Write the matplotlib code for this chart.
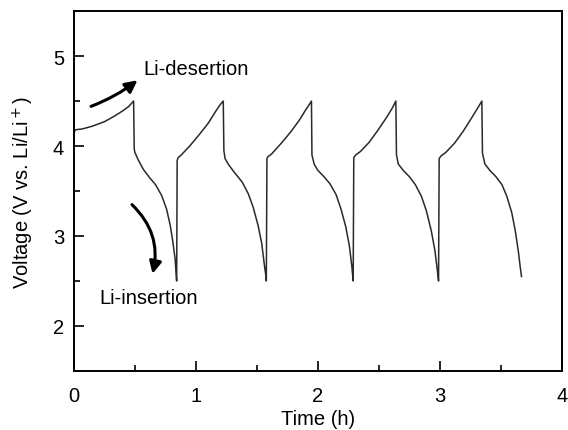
import matplotlib
matplotlib.use('Agg')
import matplotlib.pyplot as plt
from matplotlib.patches import FancyArrowPatch
from matplotlib.ticker import MultipleLocator

plt.rcParams['font.family'] = ['Liberation Sans', 'DejaVu Sans']

# time (h) and voltage (V), one charge/discharge segment at a time
time_h = [
    0.00, 0.01, 0.07, 0.15, 0.25, 0.33, 0.40, 0.45, 0.49,
    0.495, 0.50, 0.53, 0.57, 0.62, 0.67, 0.72, 0.76, 0.79, 0.81, 0.83, 0.84, 0.843,
    0.847, 0.855, 0.88, 0.95, 1.03, 1.10, 1.16, 1.20, 1.225,
    1.23, 1.24, 1.27, 1.32, 1.38, 1.43, 1.47, 1.51, 1.54, 1.56, 1.575, 1.578,
    1.583, 1.59, 1.62, 1.70, 1.78, 1.85, 1.90, 1.93, 1.948,
    1.952, 1.97, 2.00, 2.05, 2.10, 2.15, 2.19, 2.23, 2.26, 2.28, 2.29,
    2.295, 2.31, 2.35, 2.42, 2.49, 2.56, 2.61, 2.64,
    2.645, 2.66, 2.70, 2.75, 2.80, 2.85, 2.89, 2.93, 2.96, 2.98, 2.99,
    2.995, 3.01, 3.05, 3.12, 3.19, 3.26, 3.31, 3.345,
    3.35, 3.37, 3.41, 3.46, 3.51, 3.55, 3.59, 3.62, 3.645, 3.66, 3.67,
]
voltage = [
    4.13, 4.18, 4.19, 4.22, 4.27, 4.33, 4.39, 4.44, 4.50,
    3.97, 3.93, 3.84, 3.74, 3.65, 3.57, 3.45, 3.30, 3.12, 2.95, 2.75, 2.55, 2.50,
    3.84, 3.87, 3.90, 4.00, 4.13, 4.25, 4.38, 4.46, 4.50,
    3.95, 3.86, 3.79, 3.70, 3.60, 3.47, 3.32, 3.12, 2.92, 2.70, 2.55, 2.50,
    3.86, 3.88, 3.91, 4.03, 4.16, 4.29, 4.40, 4.46, 4.50,
    3.90, 3.80, 3.73, 3.66, 3.58, 3.46, 3.30, 3.10, 2.88, 2.65, 2.50,
    3.87, 3.90, 3.94, 4.04, 4.17, 4.31, 4.42, 4.50,
    3.90, 3.80, 3.73, 3.66, 3.57, 3.44, 3.28, 3.06, 2.84, 2.62, 2.50,
    3.86, 3.89, 3.93, 4.03, 4.16, 4.31, 4.42, 4.50,
    3.92, 3.80, 3.73, 3.66, 3.57, 3.44, 3.26, 3.05, 2.82, 2.65, 2.55,
]

fig = plt.figure(figsize=(5.68, 4.31), dpi=100)
ax = fig.add_axes([0.130, 0.137, 0.859, 0.835])

ax.plot(time_h, voltage, color='#2a2a2a', lw=1.1)

ax.set_xlim(0, 4)
ax.set_ylim(1.5, 5.5)
ax.xaxis.set_major_locator(MultipleLocator(1))
ax.xaxis.set_minor_locator(MultipleLocator(0.5))
ax.yaxis.set_major_locator(MultipleLocator(1))
ax.yaxis.set_minor_locator(MultipleLocator(0.5))
ax.tick_params(which='both', direction='in', labelsize=14.5, width=1.2)
ax.tick_params(which='major', length=7)
ax.tick_params(axis='x', which='major', pad=11)
ax.tick_params(axis='y', which='major', pad=7)
ax.tick_params(which='minor', length=4)
for s in ax.spines.values():
    s.set_linewidth(1.4)

ax.set_xlabel('Time (h)', fontsize=14.5, labelpad=3)
ax.set_ylabel('Voltage (V vs. Li/Li$^+$)', fontsize=14.5, labelpad=12)

# annotations
ax.text(0.57, 4.86, 'Li-desertion', fontsize=14.5, va='center', ha='left')
ax.add_patch(FancyArrowPatch((0.12, 4.43), (0.54, 4.75), arrowstyle='-|>',
                             mutation_scale=18, lw=2.2, color='black',
                             connectionstyle='arc3,rad=0.08'))
ax.text(0.21, 2.32, 'Li-insertion', fontsize=14.5, va='center', ha='left')
ax.add_patch(FancyArrowPatch((0.46, 3.37), (0.64, 2.55), arrowstyle='-|>',
                             mutation_scale=18, lw=2.2, color='black',
                             connectionstyle='arc3,rad=-0.3'))

fig.savefig('out.png', dpi=100)
